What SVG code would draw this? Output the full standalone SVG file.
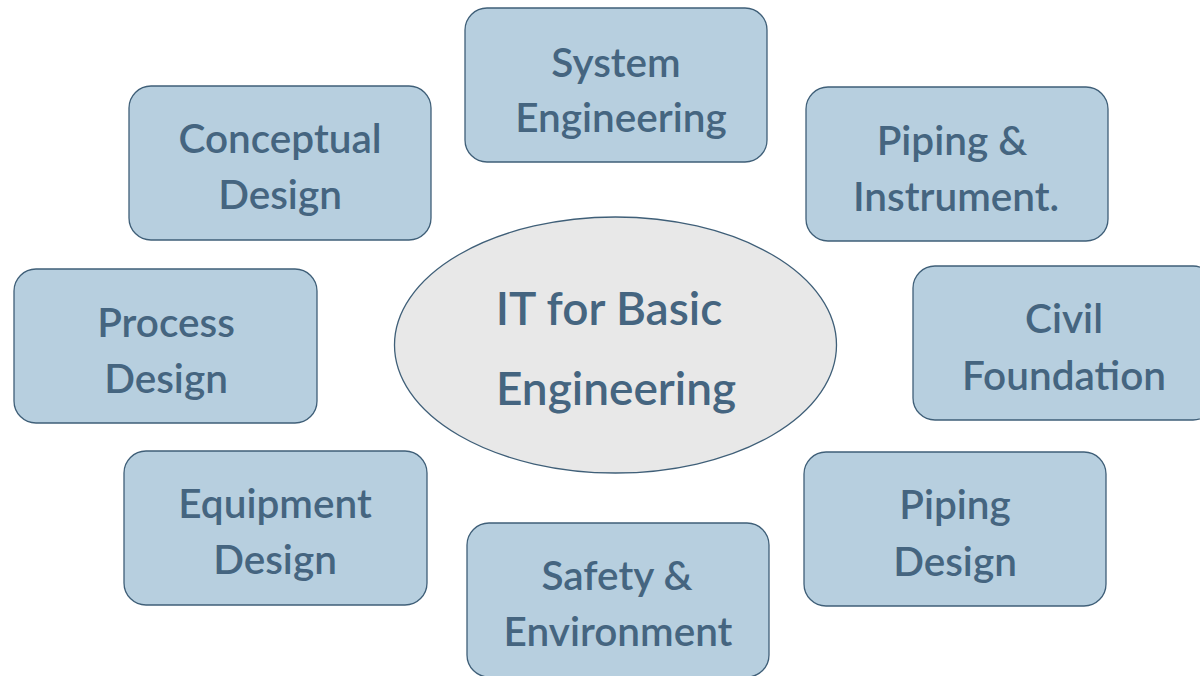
<svg xmlns="http://www.w3.org/2000/svg" width="1200" height="676" viewBox="0 0 1200 676">
<style>
.box{fill:#b7cfdf;stroke:#3f5f78;stroke-width:1.3}
.hub{fill:#e8e8e8;stroke:#3f5f78;stroke-width:1.3}
.t{font-family:Lato,"Open Sans","Liberation Sans",sans-serif;font-weight:600;font-size:40.5px;fill:#456580;text-anchor:middle}
.th{font-size:46px}
</style>
<rect width="1200" height="676" fill="#ffffff"/>
<g id="connectors"></g>
<g id="hub">
<ellipse class="hub" cx="615.5" cy="345" rx="221" ry="128"/>
<text class="t th" x="609" y="325">IT for Basic</text>
<text class="t th" x="616" y="405">Engineering</text>
</g>
<g id="system-engineering">
<rect class="box" x="465" y="8" width="302" height="154" rx="22"/>
<text class="t" x="616" y="77">System</text>
<text class="t" x="621" y="132">Engineering</text>
</g>
<g id="conceptual-design">
<rect class="box" x="129" y="86" width="302" height="154" rx="22"/>
<text class="t" x="280" y="153">Conceptual</text>
<text class="t" x="280" y="209">Design</text>
</g>
<g id="piping-instrument">
<rect class="box" x="806" y="87" width="302" height="154" rx="22"/>
<text class="t" x="952" y="155">Piping &amp;</text>
<text class="t" x="956" y="211">Instrument.</text>
</g>
<g id="process-design">
<rect class="box" x="14" y="269" width="303" height="154" rx="22"/>
<text class="t" x="166" y="337">Process</text>
<text class="t" x="166" y="393">Design</text>
</g>
<g id="civil-foundation">
<rect class="box" x="913" y="266" width="302" height="154" rx="22"/>
<text class="t" x="1064" y="333">Civil</text>
<text class="t" x="1064" y="390">Foundation</text>
</g>
<g id="equipment-design">
<rect class="box" x="124" y="451" width="303" height="154" rx="22"/>
<text class="t" x="275" y="518">Equipment</text>
<text class="t" x="275" y="574">Design</text>
</g>
<g id="piping-design">
<rect class="box" x="804" y="452" width="302" height="154" rx="22"/>
<text class="t" x="955" y="519">Piping</text>
<text class="t" x="955" y="576">Design</text>
</g>
<g id="safety-environment">
<rect class="box" x="467" y="523" width="302" height="154" rx="22"/>
<text class="t" x="617" y="590">Safety &amp;</text>
<text class="t" x="618" y="646">Environment</text>
</g>
</svg>
